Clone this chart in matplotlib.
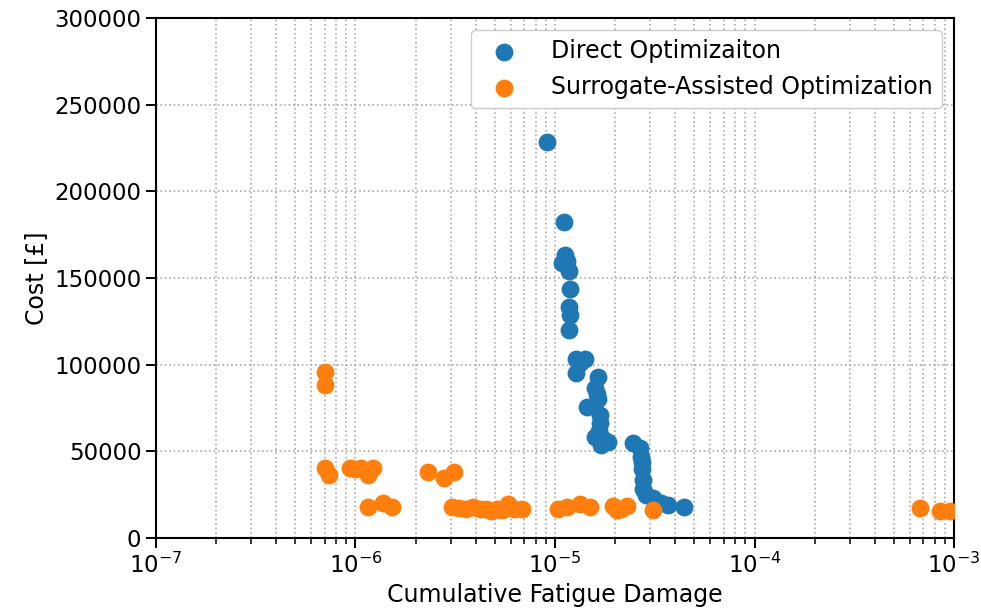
import matplotlib
matplotlib.use("Agg")
import matplotlib.pyplot as plt
import numpy as np

# Direct optimisation results (damage, cost)
direct_damage = [9.14e-6, 1.11e-5, 1.12e-5, 1.09e-5, 1.15e-5, 1.18e-5, 1.19e-5, 1.18e-5,
                 1.19e-5, 1.18e-5, 1.28e-5, 1.41e-5, 1.33e-5, 1.27e-5, 1.65e-5, 1.59e-5,
                 1.62e-5, 1.65e-5, 1.45e-5, 1.69e-5, 1.68e-5, 1.66e-5, 1.59e-5, 1.71e-5,
                 1.85e-5, 1.75e-5, 2.47e-5, 2.67e-5, 2.70e-5, 2.72e-5, 2.74e-5, 2.75e-5,
                 2.77e-5, 2.85e-5, 3.11e-5, 3.40e-5, 3.70e-5, 4.43e-5]
direct_cost = [228500, 182100, 163300, 158500, 160000, 154200, 143500, 133400,
               128600, 120000, 103100, 103400, 101000, 95000, 92700, 86400,
               83000, 80000, 75700, 71000, 66200, 62000, 58400, 53600,
               55600, 57000, 55000, 51700, 47000, 44000, 40000, 33500,
               28000, 24800, 22900, 20000, 19000, 18100]

# Surrogate-assisted optimisation results
surrogate_damage = [7.03e-7, 7.03e-7, 7.03e-7, 7.39e-7, 9.38e-7, 1.0e-6, 1.07e-6, 1.16e-6,
                    1.23e-6, 1.15e-6, 1.37e-6, 1.52e-6, 2.32e-6, 2.78e-6, 3.12e-6,
                    3.03e-6, 3.3e-6, 3.6e-6, 3.9e-6, 4.2e-6, 4.5e-6, 4.8e-6, 5.1e-6,
                    5.4e-6, 5.8e-6, 6.2e-6, 6.81e-6, 1.04e-5, 1.15e-5, 1.33e-5, 1.50e-5,
                    1.96e-5, 2.05e-5, 2.15e-5, 2.29e-5, 3.11e-5, 6.76e-4, 8.51e-4, 9.55e-4]
surrogate_cost = [95800, 88300, 40200, 36300, 40200, 40000, 40200, 36300,
                  40200, 17700, 20000, 17700, 38300, 34400, 38300,
                  18000, 17500, 17000, 18000, 17000, 16500, 15800, 17000,
                  16000, 19500, 17000, 16500, 17000, 17800, 19800, 18000,
                  18500, 16000, 16500, 18500, 16200, 17100, 15600, 15600]

fig = plt.figure(figsize=(9.81, 6.14), dpi=100)
ax = fig.add_axes([0.159, 0.1238, 0.8135, 0.8469])

ax.scatter(direct_damage, direct_cost, s=140, color='#1f77b4', label='Direct Optimizaiton', zorder=3)
ax.scatter(surrogate_damage, surrogate_cost, s=140, color='#ff7f0e', label='Surrogate-Assisted Optimization', zorder=3)

ax.set_xscale('log')
ax.set_xlim(1e-7, 1e-3)
ax.set_ylim(0, 300000)
ax.set_yticks(np.arange(0, 300001, 50000))

ax.grid(True, which='major', axis='both', linestyle=':', color='#aaaaaa', linewidth=1.2)
ax.grid(True, which='minor', axis='x', linestyle=':', color='#aaaaaa', linewidth=1.2)

ax.tick_params(axis='both', which='major', labelsize=16.5, length=7, width=1.4)
ax.tick_params(axis='x', which='minor', length=4, width=1.1)
for sp in ax.spines.values():
    sp.set_linewidth(1.5)

ax.set_xlabel('Cumulative Fatigue Damage', fontsize=17)
ax.set_ylabel('Cost [£]', fontsize=17)

ax.legend(loc='upper right', fontsize=17, framealpha=1, edgecolor='#cccccc',
          handletextpad=1.0)

fig.savefig('out.png', dpi=100)
